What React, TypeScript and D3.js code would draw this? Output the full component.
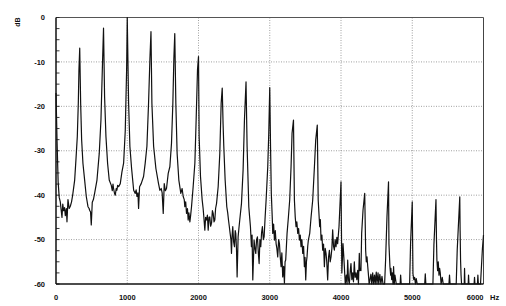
import React from "react";
import * as d3 from "d3";

const xTicks = [0, 1000, 2000, 3000, 4000, 5000, 6000];
const yTicks = [0, -10, -20, -30, -40, -50, -60];

// frequency (Hz) and level (dB) pairs
const spectrum: [number, number][] = [
  [0,-17],[15,-28],[30,-37],[45,-40.5],[60,-41.5],[84,-45],[95,-42],[107,-43.5],[120,-42.8],[131,-44.6],
  [145,-43],[154,-46],[168,-41],[185,-43],[201,-42.5],[218,-41.5],[234,-40],[262,-36.6],[280,-32],[299,-26.8],
  [313,-19.3],[322,-11.8],[333,-6.9],[346,-19.3],[360,-27.6],[378,-32.8],[402,-36.6],[425,-40.3],[449,-42.6],[465,-43],
  [472,-43.4],[485,-43.8],[495,-46.7],[509,-41.6],[525,-41],[542,-39.6],[575,-36.6],[607,-30.6],[631,-23],[650,-11.8],
  [667,-2.4],[682,-17.9],[701,-26.8],[724,-32.8],[747,-36.6],[776,-37.8],[790,-39],[800,-37.5],[808,-38.5],[820,-39.5],
  [832,-40],[845,-38.5],[855,-38.9],[865,-37.8],[879,-38.1],[902,-37.4],[925,-34.8],[949,-32.8],[972,-25.5],[991,-11.8],
  [1000,0],[1019,-19.3],[1037,-29],[1061,-34],[1090,-38.9],[1112,-39.6],[1125,-38.8],[1136,-40.3],[1150,-39.5],[1159,-43],
  [1173,-38.1],[1196,-37.4],[1229,-35.8],[1252,-32.8],[1276,-29],[1299,-19.3],[1318,-9.4],[1333,-3.2],[1346,-19.3],[1370,-29],
  [1402,-34],[1439,-37.4],[1458,-38.9],[1477,-38.5],[1490,-39.5],[1505,-44.1],[1519,-37.4],[1535,-39],[1551,-38.5],[1575,-35.1],
  [1598,-33.6],[1621,-28.3],[1640,-19.3],[1654,-9.4],[1667,-3.6],[1682,-19.3],[1700,-30.6],[1724,-36.6],[1752,-39.6],[1770,-38.5],
  [1785,-40.3],[1800,-41],[1808,-42.6],[1820,-41.5],[1832,-44.1],[1845,-43],[1855,-45.6],[1865,-44],[1879,-46],[1890,-44.5],
  [1902,-42.6],[1925,-38.1],[1949,-32.8],[1967,-23],[1986,-11.8],[2000,-8.8],[2009,-26.8],[2028,-35.8],[2051,-41],[2065,-43],
  [2075,-44.9],[2089,-47.9],[2100,-45],[2112,-45.6],[2125,-44.5],[2136,-47.9],[2148,-45],[2159,-44.9],[2170,-47],[2183,-46.3],
  [2195,-43.5],[2206,-44.1],[2218,-46],[2229,-45.6],[2240,-43],[2253,-41.9],[2276,-38.1],[2299,-30.6],[2318,-19.3],[2333,-15.9],
  [2345,-24],[2355,-29],[2374,-36.6],[2397,-42.6],[2410,-44],[2421,-45.6],[2432,-47],[2444,-48.6],[2455,-50],[2463,-53.1],
  [2472,-49],[2481,-47.1],[2493,-50.5],[2505,-51.6],[2515,-48],[2523,-48.6],[2533,-52],[2542,-58.4],[2556,-49.4],[2567,-47.5],
  [2579,-45.6],[2603,-41.9],[2626,-34.3],[2645,-23],[2667,-14.5],[2682,-29],[2706,-42.6],[2718,-45],[2729,-47.1],[2743,-51.6],
  [2752,-49],[2762,-59.1],[2780,-50.1],[2792,-52],[2804,-53.1],[2815,-50],[2827,-49.4],[2840,-53],[2851,-55.4],[2862,-50],
  [2874,-51.6],[2885,-48.5],[2897,-47.1],[2910,-50],[2921,-49.4],[2935,-45],[2949,-41.1],[2972,-33.6],[2986,-26.1],[3000,-15.8],
  [3012,-30],[3022,-39.6],[3035,-45],[3042,-48.6],[3054,-46.5],[3066,-50.1],[3078,-48],[3089,-50.9],[3100,-52],[3112,-53.9],
  [3125,-50],[3136,-50.9],[3148,-54],[3159,-56.1],[3170,-53],[3182,-58.4],[3195,-56],[3206,-59.8],[3215,-55],[3224,-54.6],
  [3243,-48.6],[3262,-44.9],[3280,-41.1],[3299,-33.6],[3313,-26.1],[3333,-23.1],[3346,-41.1],[3358,-45],[3369,-47.1],[3380,-46],
  [3393,-48.6],[3405,-47.5],[3416,-50.1],[3428,-49],[3439,-51.6],[3451,-50],[3463,-53.1],[3475,-51.5],[3486,-56.1],[3495,-54],
  [3505,-59.1],[3515,-55],[3523,-53.9],[3533,-51.5],[3542,-50.1],[3561,-48.6],[3580,-44.9],[3603,-41.1],[3627,-33.6],[3645,-27.6],
  [3667,-24.2],[3680,-41.1],[3701,-47.1],[3710,-45.5],[3720,-50.1],[3732,-49],[3743,-52.4],[3755,-51],[3767,-56.1],[3778,-52],
  [3790,-53.1],[3800,-55],[3813,-59.1],[3825,-54],[3837,-52.4],[3848,-55],[3860,-53.9],[3872,-52],[3883,-47.8],[3895,-51.5],
  [3907,-52.4],[3918,-50],[3930,-51.6],[3942,-49.5],[3953,-50.9],[3972,-47.1],[4000,-37],[4012,-57.5],[4028,-50.9],[4040,-54],
  [4047,-56.1],[4060,-60],[4075,-58],[4085,-60],[4094,-54.6],[4105,-59],[4117,-60],[4130,-57],[4140,-55.4],[4152,-59],
  [4164,-57.5],[4175,-59.5],[4187,-55],[4198,-58.5],[4210,-57.5],[4222,-59],[4234,-56.9],[4245,-60],[4257,-53.1],[4264,-57],
  [4271,-56.5],[4280,-57],[4290,-48.6],[4309,-43.4],[4333,-39.6],[4346,-52.4],[4355,-55],[4365,-53.9],[4375,-56],[4383,-57.5],
  [4395,-60],[4420,-57.8],[4430,-60],[4445,-57.5],[4455,-60],[4470,-58],[4480,-60],[4495,-57.3],[4505,-60],[4520,-57.5],
  [4530,-60],[4545,-57.8],[4560,-60],[4575,-58.3],[4590,-60],[4612,-60],[4626,-54.6],[4645,-45],[4667,-37],[4673,-51],
  [4687,-56.1],[4697,-58],[4701,-56.5],[4711,-59],[4720,-57.5],[4730,-60],[4738,-56.1],[4748,-60],[4757,-58],[4776,-60],
  [4830,-60],[4837,-58],[4845,-60],[4963,-60],[4977,-50.6],[5000,-41.5],[5005,-50],[5010,-57.7],[5022,-59],[5033,-58.5],
  [5045,-60],[5056,-58.8],[5070,-60],[5175,-60],[5183,-57.7],[5191,-60],[5290,-60],[5304,-51.2],[5333,-41],[5340,-50],
  [5346,-54.6],[5356,-57],[5365,-55],[5375,-58],[5384,-56.5],[5393,-57.5],[5405,-60],[5421,-58.5],[5435,-60],[5515,-60],
  [5523,-58],[5531,-60],[5617,-60],[5631,-52.4],[5667,-40.4],[5672,-48],[5678,-54.6],[5685,-58],[5692,-60],[5730,-60],
  [5734,-56.5],[5740,-60],[5785,-60],[5790,-58],[5796,-60],[5868,-60],[5874,-58.5],[5880,-60],[5915,-60],[5921,-58],
  [5928,-60],[5958,-60],[5985,-52],[6000,-49],
];

const W = 506, H = 306;
const x = d3.scaleLinear().domain([0, 6000]).range([56, 483.5]);
const y = d3.scaleLinear().domain([-60, 0]).range([284, 17.5]);

export default function App() {
  const line = d3
    .line<[number, number]>()
    .x((d) => x(d[0]))
    .y((d) => y(Math.max(-60, Math.min(0, d[1]))));
  const minor = d3.range(0, -60.01, -2.5);
  const font = "'Liberation Sans', Arial, sans-serif";
  return (
    <svg width={W} height={H} style={{ position: "absolute", left: 0, top: 0, background: "#fff" }}>
      <rect x={0} y={0} width={W} height={H} fill="#fff" />
      {xTicks.slice(1, -1).map((t) => (
        <line key={"gx" + t} x1={x(t)} x2={x(t)} y1={y(0)} y2={y(-60)} stroke="#888" strokeWidth={0.8} strokeDasharray="1,1.5" />
      ))}
      {yTicks.slice(1, -1).map((t) => (
        <line key={"gy" + t} x1={x(0)} x2={x(6000)} y1={y(t)} y2={y(t)} stroke="#888" strokeWidth={0.8} strokeDasharray="1,1.5" />
      ))}
      <line x1={x(0)} x2={x(6000)} y1={y(0)} y2={y(0)} stroke="#555" strokeWidth={1} />
      <line x1={x(6000)} x2={x(6000)} y1={y(0)} y2={y(-60)} stroke="#444" strokeWidth={1} />
      {minor.map((t) => (
        <line key={"mt" + t} x1={x(0)} x2={x(0) + 3.5} y1={y(t)} y2={y(t)} stroke="#222" strokeWidth={0.9} />
      ))}
      <path d={line(spectrum) || ""} fill="none" stroke="#111" strokeWidth={1.2} strokeLinejoin="round" />
      <line x1={x(0)} x2={x(0)} y1={y(0)} y2={y(-60)} stroke="#111" strokeWidth={1.5} />
      <line x1={x(0)} x2={x(6000)} y1={y(-60)} y2={y(-60)} stroke="#111" strokeWidth={1.5} />
      {yTicks.map((t) => (
        <text key={"yl" + t} x={45} y={y(t)} dy="0.35em" textAnchor="end" fontSize={7.5} fontWeight="bold" fontFamily={font} fill="#111">
          {t}
        </text>
      ))}
      {xTicks.map((t, i) => (
        <text
          key={"xl" + t}
          x={i === xTicks.length - 1 ? x(t) : x(t)}
          y={300}
          textAnchor={i === xTicks.length - 1 ? "end" : "middle"}
          fontSize={7.5}
          fontWeight="bold"
          fontFamily={font}
          fill="#111"
        >
          {t}
        </text>
      ))}
      <text x={490} y={300} fontSize={7.5} fontWeight="bold" fontFamily={font} fill="#111">Hz</text>
      <text transform="translate(20,22) rotate(-90)" textAnchor="middle" fontSize={7} fontWeight="bold" fontFamily={font} fill="#111">dB</text>
    </svg>
  );
}
